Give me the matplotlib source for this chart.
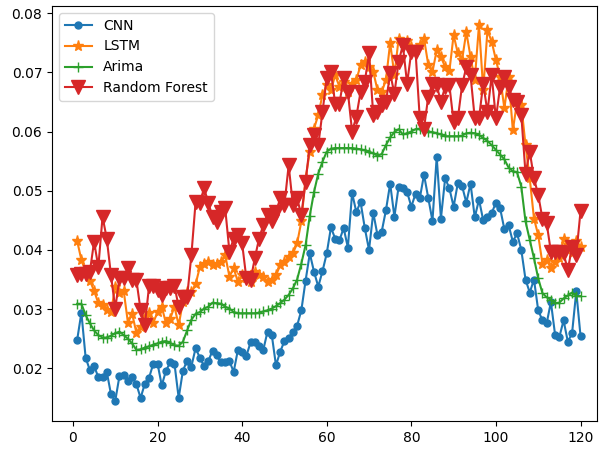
import numpy as np
import matplotlib
matplotlib.use('Agg')
import matplotlib.pyplot as plt

# x positions 1..120
steps = np.arange(1, 121)

cnn = [0.0248, 0.0294, 0.0218, 0.0197, 0.0204, 0.0185, 0.0185, 0.0194, 0.0156, 0.0145,
       0.0187, 0.0188, 0.0179, 0.0185, 0.0173, 0.0150, 0.0174, 0.0184, 0.0208, 0.0208,
       0.0171, 0.0196, 0.0210, 0.0208, 0.0150, 0.0196, 0.0213, 0.0203, 0.0234, 0.0218,
       0.0204, 0.0212, 0.0230, 0.0222, 0.0210, 0.0211, 0.0212, 0.0194, 0.0231, 0.0228,
       0.0221, 0.0244, 0.0245, 0.0238, 0.0231, 0.0262, 0.0257, 0.0205, 0.0228, 0.0246,
       0.0251, 0.0261, 0.0272, 0.0298, 0.0348, 0.0394, 0.0363, 0.0338, 0.0364, 0.0394,
       0.0438, 0.0419, 0.0416, 0.0437, 0.0404, 0.0496, 0.0464, 0.0481, 0.0437, 0.0400,
       0.0463, 0.0425, 0.0431, 0.0467, 0.0512, 0.0456, 0.0507, 0.0504, 0.0498, 0.0473,
       0.0495, 0.0487, 0.0527, 0.0488, 0.0449, 0.0557, 0.0453, 0.0521, 0.0504, 0.0473,
       0.0513, 0.0508, 0.0480, 0.0512, 0.0455, 0.0485, 0.0450, 0.0456, 0.0462, 0.0480,
       0.0470, 0.0435, 0.0442, 0.0414, 0.0428, 0.0400, 0.0350, 0.0328, 0.0350, 0.0298,
       0.0281, 0.0276, 0.0312, 0.0256, 0.0253, 0.0281, 0.0245, 0.0259, 0.0330, 0.0255]

lstm = [0.0415, 0.0383, 0.0363, 0.0348, 0.0331, 0.0310, 0.0307, 0.0298, 0.0295, 0.0338,
        0.0328, 0.0331, 0.0277, 0.0292, 0.0260, 0.0270, 0.0287, 0.0293, 0.0277, 0.0295,
        0.0304, 0.0276, 0.0284, 0.0304, 0.0273, 0.0312, 0.0329, 0.0329, 0.0342, 0.0371,
        0.0376, 0.0380, 0.0374, 0.0377, 0.0380, 0.0391, 0.0355, 0.0369, 0.0346, 0.0357,
        0.0352, 0.0346, 0.0363, 0.0357, 0.0355, 0.0346, 0.0349, 0.0357, 0.0374, 0.0380,
        0.0388, 0.0394, 0.0411, 0.0448, 0.0521, 0.0566, 0.0605, 0.0628, 0.0662, 0.0678,
        0.0670, 0.0695, 0.0676, 0.0684, 0.0667, 0.0681, 0.0687, 0.0712, 0.0718, 0.0709,
        0.0701, 0.0670, 0.0667, 0.0687, 0.0750, 0.0695, 0.0757, 0.0749, 0.0753, 0.0743,
        0.0737, 0.0746, 0.0757, 0.0713, 0.0701, 0.0737, 0.0726, 0.0709, 0.0702, 0.0763,
        0.0732, 0.0721, 0.0768, 0.0726, 0.0687, 0.0780, 0.0670, 0.0771, 0.0752, 0.0721,
        0.0692, 0.0639, 0.0692, 0.0602, 0.0650, 0.0645, 0.0577, 0.0521, 0.0453, 0.0425,
        0.0377, 0.0383, 0.0369, 0.0380, 0.0386, 0.0419, 0.0408, 0.0395, 0.0415, 0.0405]

arima = [0.0309, 0.0309, 0.0290, 0.0276, 0.0264, 0.0256, 0.0252, 0.0252, 0.0255, 0.0259,
         0.0262, 0.0256, 0.0250, 0.0242, 0.0231, 0.0232, 0.0235, 0.0237, 0.0240, 0.0242,
         0.0245, 0.0246, 0.0243, 0.0239, 0.0238, 0.0245, 0.0264, 0.0282, 0.0292, 0.0295,
         0.0301, 0.0304, 0.0311, 0.0310, 0.0309, 0.0304, 0.0301, 0.0295, 0.0293, 0.0293,
         0.0293, 0.0293, 0.0293, 0.0294, 0.0296, 0.0298, 0.0301, 0.0305, 0.0310, 0.0316,
         0.0324, 0.0335, 0.0350, 0.0377, 0.0408, 0.0458, 0.0498, 0.0529, 0.0549, 0.0566,
         0.0571, 0.0572, 0.0572, 0.0572, 0.0572, 0.0572, 0.0571, 0.0570, 0.0568, 0.0566,
         0.0563, 0.0559, 0.0562, 0.0577, 0.0590, 0.0599, 0.0604, 0.0595, 0.0597, 0.0600,
         0.0604, 0.0605, 0.0602, 0.0600, 0.0599, 0.0597, 0.0595, 0.0592, 0.0592, 0.0592,
         0.0592, 0.0593, 0.0597, 0.0598, 0.0597, 0.0594, 0.0589, 0.0584, 0.0577, 0.0569,
         0.0561, 0.0553, 0.0539, 0.0533, 0.0531, 0.0507, 0.0448, 0.0417, 0.0386, 0.0352,
         0.0327, 0.0320, 0.0316, 0.0310, 0.0311, 0.0318, 0.0323, 0.0328, 0.0322, 0.0322]

rf = [0.0357, 0.0360, 0.0360, 0.0363, 0.0414, 0.0371, 0.0456, 0.0419, 0.0357, 0.0301,
      0.0352, 0.0352, 0.0369, 0.0349, 0.0349, 0.0298, 0.0273, 0.0339, 0.0339, 0.0332,
      0.0324, 0.0335, 0.0336, 0.0339, 0.0304, 0.0321, 0.0321, 0.0391, 0.0481, 0.0480,
      0.0504, 0.0480, 0.0456, 0.0447, 0.0464, 0.0470, 0.0397, 0.0419, 0.0425, 0.0411,
      0.0352, 0.0349, 0.0386, 0.0419, 0.0442, 0.0459, 0.0448, 0.0464, 0.0487, 0.0476,
      0.0543, 0.0476, 0.0487, 0.0459, 0.0515, 0.0577, 0.0594, 0.0577, 0.0633, 0.0690,
      0.0701, 0.0647, 0.0647, 0.0690, 0.0667, 0.0600, 0.0625, 0.0667, 0.0684, 0.0732,
      0.0628, 0.0633, 0.0645, 0.0650, 0.0698, 0.0664, 0.0718, 0.0746, 0.0681, 0.0735,
      0.0735, 0.0622, 0.0605, 0.0659, 0.0681, 0.0678, 0.0650, 0.0676, 0.0678, 0.0616,
      0.0622, 0.0678, 0.0709, 0.0695, 0.0622, 0.0622, 0.0681, 0.0633, 0.0695, 0.0622,
      0.0676, 0.0692, 0.0676, 0.0653, 0.0650, 0.0628, 0.0529, 0.0566, 0.0521, 0.0493,
      0.0453, 0.0445, 0.0397, 0.0397, 0.0397, 0.0394, 0.0366, 0.0405, 0.0392, 0.0465]

fig = plt.figure(figsize=(5.99, 4.51), dpi=100)
ax = fig.add_axes([52/599, 30/451, 545/599, 415/451])

ax.plot(steps, cnn, '-o', markersize=5, label='CNN')
ax.plot(steps, lstm, '-*', markersize=8, label='LSTM')
ax.plot(steps, arima, '-+', markersize=7, label='Arima')
ax.plot(steps, rf, '-v', markersize=10, label='Random Forest')

ax.set_xlim(-4.95, 123.9)
ax.set_ylim(0.0111, 0.0812)
ax.set_xticks([0, 20, 40, 60, 80, 100, 120])
ax.legend(loc='upper left')

fig.savefig('out.png', dpi=100)
